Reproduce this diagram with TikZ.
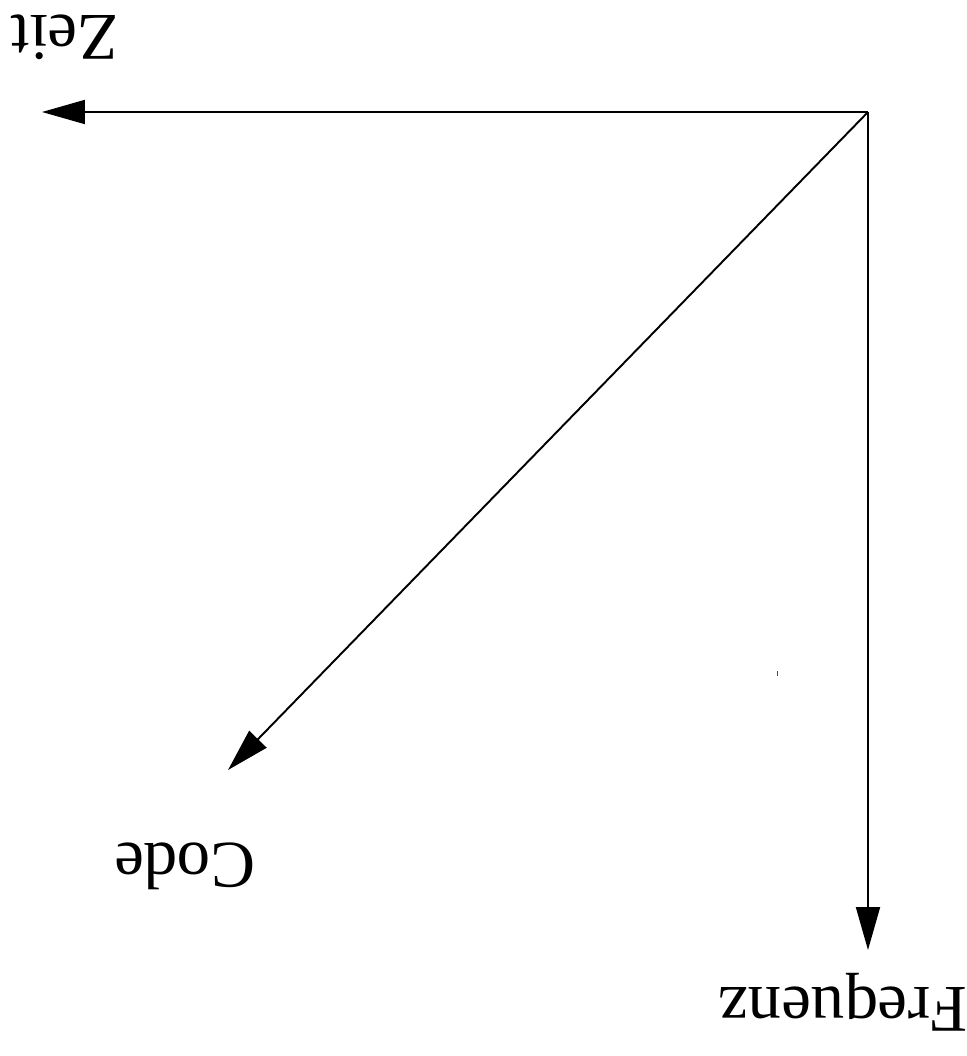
\documentclass[tikz,border=0pt]{standalone}
\usepackage{fontspec}
\setmainfont{Liberation Serif}
\usetikzlibrary{arrows.meta}
\begin{document}
\begin{tikzpicture}[x=0.02cm,y=-0.02cm,
  axis/.style={line width=1.1pt,-{Triangle[length=0.86cm,width=0.48cm]}},
  lbl/.style={rotate=180,anchor=base,inner sep=0pt,font=\fontsize{38}{42}\selectfont}]
\useasboundingbox (0,0) rectangle (967,1056);
\coordinate (O) at (868,112);
\coordinate (Z) at (42,112);
\coordinate (F) at (868,950);
\coordinate (C) at (228,770);
\draw[axis] (O) -- (Z);
\draw[axis] (O) -- (F);
\draw[axis] (O) -- (C);
\node[lbl] (zeit) at (65,15) {Zeit};
\node[lbl] (code) at (185,843) {Code};
\node[lbl] (freq) at (843,987) {Frequenz};
\fill[black!70] (777,671) rectangle (778,676);
\end{tikzpicture}
\end{document}
